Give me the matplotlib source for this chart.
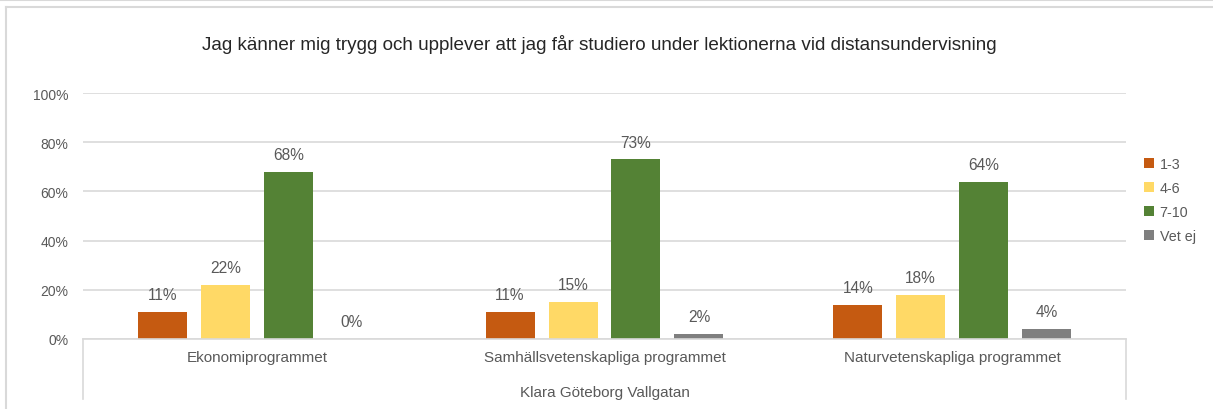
import matplotlib
matplotlib.use("Agg")
import matplotlib.pyplot as plt
from matplotlib.lines import Line2D
import numpy as np

categories = ["Ekonomiprogrammet", "Samhällsvetenskapliga programmet", "Naturvetenskapliga programmet"]
series_names = ["1-3", "4-6", "7-10", "Vet ej"]
v_1_3 = [11, 11, 14]
v_4_6 = [22, 15, 18]
v_7_10 = [68, 73, 64]
v_vet_ej = [0, 2, 4]
group_label = "Klara Göteborg Vallgatan"
title = "Jag känner mig trygg och upplever att jag får studiero under lektionerna vid distansundervisning"
yticks = [0, 20, 40, 60, 80, 100]

colors = ["#C55A11", "#FFD966", "#548235", "#7F7F7F"]
txt = "#595959"

plt.rcParams["font.family"] = ["Liberation Sans", "DejaVu Sans"]
fs = 10

W, H = 1213, 410
fig = plt.figure(figsize=(W / 100, H / 100), dpi=100)
L, R, B, T = 83, 1126, 340, 94
ax = fig.add_axes([L / W, 1 - B / H, (R - L) / W, (B - T) / H])

values = [v_1_3, v_4_6, v_7_10, v_vet_ej]
x = np.arange(len(categories))
bw = 0.141
step = bw + 0.04
for i, (vals, c, n) in enumerate(zip(values, colors, series_names)):
    pos = x + (i - 1.5) * step
    ax.bar(pos, vals, width=bw, color=c, label=n)
    for p, v in zip(pos, vals):
        ax.text(p, v + 4.0, f"{v}%", ha="center", va="bottom", fontsize=11.2, color=txt)

ax.set_xlim(-0.5, len(categories) - 0.5)
ax.set_ylim(0, 100)
ax.set_yticks(yticks)
ax.set_yticklabels([f"{t}%" for t in yticks], fontsize=fs, color=txt)
ax.tick_params(axis="y", length=0, pad=10.5)
ax.set_xticks([])
ax.grid(axis="y", color="#D9D9D9", linewidth=1.2)
ax.set_axisbelow(True)
for s in ["top", "right", "left"]:
    ax.spines[s].set_visible(False)
ax.spines["bottom"].set_color("#D9D9D9")
ax.spines["bottom"].set_linewidth(1.2)

# category axis labels
for xi, c in zip(x, categories):
    ax.text(xi, -0.075, c, transform=ax.get_xaxis_transform(), ha="center", va="center",
            fontsize=11, color=txt)
ax.text(0.5, -0.215, group_label, transform=ax.transAxes, ha="center", va="center",
        fontsize=11, color=txt)

# category axis box verticals
lc = "#D9D9D9"
for px in [L, R]:
    fig.add_artist(Line2D([px / W, px / W], [1 - B / H, 1 - 400 / H], color=lc, lw=1.2))

# outer frame lines
fig.add_artist(Line2D([0, 1], [1 - 1 / H, 1 - 1 / H], color=lc, lw=1.5))
fig.add_artist(Line2D([6 / W, 1], [1 - 7.5 / H, 1 - 7.5 / H], color=lc, lw=1.5))
fig.add_artist(Line2D([6 / W, 6 / W], [1 - 7.5 / H, 0], color=lc, lw=1.5))

fig.text(0.5 * (199 + 1000) / W, 1 - 45 / H, title, ha="center", va="center", fontsize=13.6, color="#262626")

fig.legend(loc="upper left", bbox_to_anchor=(1131 / W, 1 - 145 / H), frameon=False,
           fontsize=10.3, handlelength=0.7, handleheight=0.7, handletextpad=0.4,
           labelspacing=0.7, labelcolor=txt)

fig.savefig("out.png", dpi=100)
